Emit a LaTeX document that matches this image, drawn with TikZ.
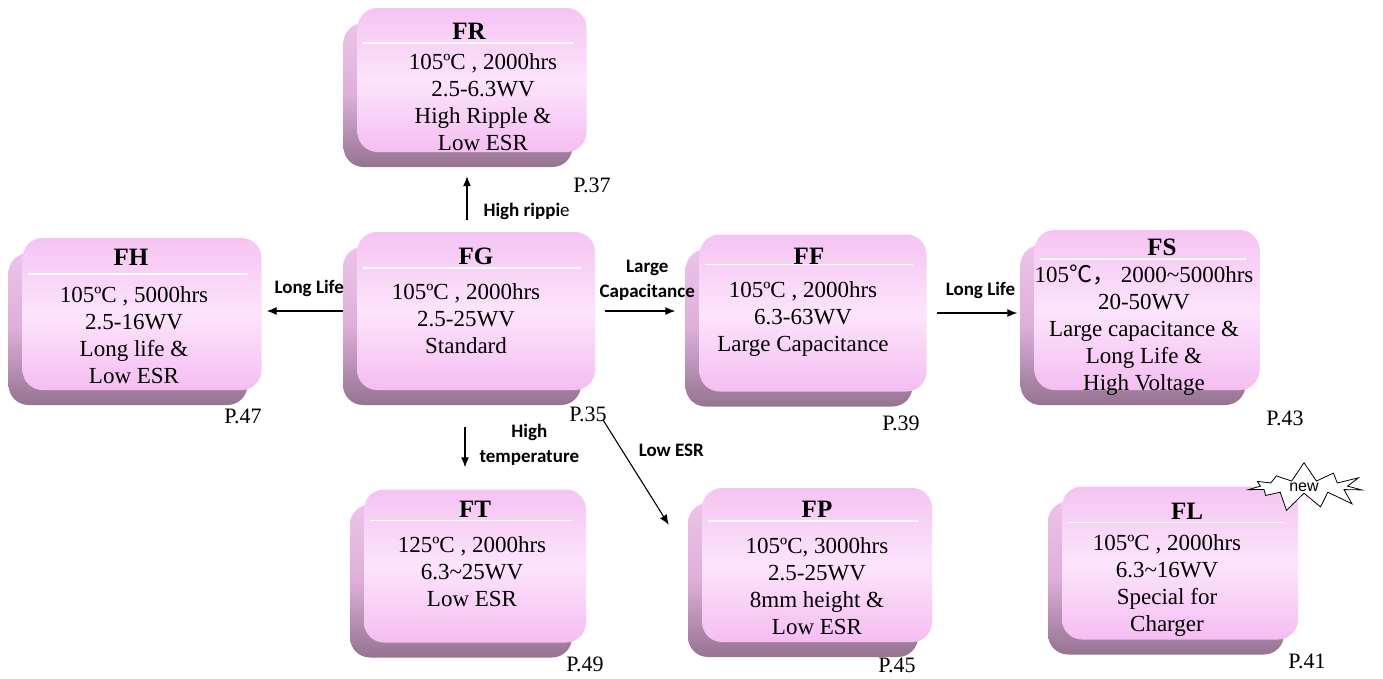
\documentclass[tikz,border=0pt]{standalone}
\usepackage{fontspec}
\setmainfont{Liberation Serif}
\newfontfamily\lblfont{Carlito}
\newfontfamily\arialfont{Liberation Sans}
\newfontfamily\cjk{Noto Sans CJK SC}
\usetikzlibrary{shadows,shapes.symbols,arrows.meta}
\definecolor{facetop}{HTML}{F5C3F3}
\definecolor{facemid}{HTML}{FCE4FB}
\definecolor{facebot}{HTML}{F5BDF2}
\definecolor{shadetop}{HTML}{EDC3EA}
\definecolor{shademid}{HTML}{DDAFDA}
\definecolor{shadebot}{HTML}{957391}

\begin{document}
\begin{tikzpicture}[x=1pt, y=-1pt,
  card node/.style={rectangle, draw=none, rounded corners=20pt, inner sep=0pt, top color=facetop, bottom color=facebot, middle color=facemid, general shadow={shadow xshift=-14pt, shadow yshift=-15pt, top color=shadetop, bottom color=shadebot, middle color=shademid}},
  title node/.style={anchor=base, inner sep=0pt, font=\fontsize{25}{25}\selectfont\bfseries},
  text node/.style={anchor=north, inner sep=0pt, align=center, font=\fontsize{23}{27}\selectfont},
  page node/.style={inner sep=0pt, font=\fontsize{22}{22}\selectfont},
  label node/.style={inner sep=0pt, align=center, font=\lblfont\bfseries\fontsize{19}{25}\selectfont},
  burst node/.style={starburst, draw, fill=white, line width=0.8pt, inner sep=0pt, starburst points=11, starburst point height=20pt, random starburst=7, minimum width=128pt, minimum height=36pt, font=\arialfont\fontsize{16}{16}\selectfont},
  rule line/.style={white, line width=1.5pt},
  arrow line/.style={-{Latex[length=10pt,width=8pt]}, line width=1.1pt}]

  \useasboundingbox (0,0) rectangle (1383,678);

  % top
  \node[card node, minimum width=229pt, minimum height=144pt] (fr) at (472,80) {};
  \node[title node] (fr-t) at ([xshift=-3pt,yshift=-32pt]fr.north) {FR};
  \draw[rule line] ([shift={(6pt,-35pt)}]fr.north west) -- ([shift={(-14pt,-35pt)}]fr.north east);
  \node[text node] (fr-x) at ([shift={(11pt,-46pt)}]fr.north) {105ºC , 2000hrs\\2.5-6.3WV\\High Ripple \&\\Low ESR};

  % middle row
  \node[card node, minimum width=239pt, minimum height=152pt] (fh) at (142,314) {};
  \node[title node] (fh-t) at ([xshift=-11pt,yshift=-28pt]fh.north) {FH};
  \draw[rule line] ([shift={(6pt,-36pt)}]fh.north west) -- ([shift={(-14pt,-36pt)}]fh.north east);
  \node[text node] (fh-x) at ([shift={(-8pt,-49pt)}]fh.north) {105ºC , 5000hrs\\2.5-16WV\\Long life \&\\Low ESR};

  \node[card node, minimum width=238pt, minimum height=158pt] (fg) at (476,311) {};
  \node[title node] (fg-t) at ([yshift=-33pt]fg.north) {FG};
  \draw[rule line] ([shift={(6pt,-36pt)}]fg.north west) -- ([shift={(-14pt,-36pt)}]fg.north east);
  \node[text node] (fg-x) at ([shift={(-10pt,-52pt)}]fg.north) {105ºC , 2000hrs\\2.5-25WV\\Standard};

  \node[card node, minimum width=227pt, minimum height=157pt] (ff) at (813,313) {};
  \node[title node] (ff-t) at ([xshift=-4pt,yshift=-30pt]ff.north) {FF};
  \draw[rule line] ([shift={(6pt,-30pt)}]ff.north west) -- ([shift={(-14pt,-30pt)}]ff.north east);
  \node[text node] (ff-x) at ([shift={(-10pt,-47pt)}]ff.north) {105ºC , 2000hrs\\6.3-63WV\\Large Capacitance};

  \node[card node, minimum width=225pt, minimum height=160pt] (fs) at (1147,310) {};
  \node[title node] (fs-t) at ([xshift=15pt,yshift=-26pt]fs.north) {FS};
  \draw[rule line] ([shift={(6pt,-29pt)}]fs.north west) -- ([shift={(-14pt,-29pt)}]fs.north east);
  \node[text node] (fs-x) at ([shift={(-3pt,-37pt)}]fs.north) {105\smash{\cjk ℃，} 2000\textasciitilde 5000hrs\\20-50WV\\Large capacitance \&\\Long Life \&\\High Voltage};

  % bottom row
  \node[card node, minimum width=222pt, minimum height=153pt] (ft) at (475,566) {};
  \node[title node] (ft-t) at ([yshift=-28pt]ft.north) {FT};
  \draw[rule line] ([shift={(6pt,-31pt)}]ft.north west) -- ([shift={(-14pt,-31pt)}]ft.north east);
  \node[text node] (ft-x) at ([shift={(-3pt,-47pt)}]ft.north) {125ºC , 2000hrs\\6.3\textasciitilde 25WV\\Low ESR};

  \node[card node, minimum width=230pt, minimum height=154pt] (fp) at (817,565) {};
  \node[title node] (fp-t) at ([yshift=-30pt]fp.north) {FP};
  \draw[rule line] ([shift={(6pt,-33pt)}]fp.north west) -- ([shift={(-14pt,-33pt)}]fp.north east);
  \node[text node] (fp-x) at ([yshift=-50pt]fp.north) {105ºC, 3000hrs\\2.5-25WV\\8mm height \&\\Low ESR};

  \node[card node, minimum width=236pt, minimum height=153pt] (fl) at (1180,563) {};
  \node[title node] (fl-t) at ([xshift=7pt,yshift=-33pt]fl.north) {FL};
  \draw[rule line] ([shift={(6pt,-36pt)}]fl.north west) -- ([shift={(-14pt,-36pt)}]fl.north east);
  \node[text node] (fl-x) at ([shift={(-13pt,-48pt)}]fl.north) {105ºC , 2000hrs\\6.3\textasciitilde 16WV\\Special for\\Charger};
  \node[burst node] (new) at (1304,487) {new};

  % pages
  \node[page node] (p37) at (592,185) {P.37};
  \node[page node] (p47) at (243,416) {P.47};
  \node[page node] (p35) at (588,414) {P.35};
  \node[page node] (p39) at (901,423) {P.39};
  \node[page node] (p43) at (1285,418) {P.43};
  \node[page node] (p49) at (585,664) {P.49};
  \node[page node] (p45) at (897,665) {P.45};
  \node[page node] (p41) at (1307,661) {P.41};

 \path[]
 (fg.west) [arrow line, shorten <=14pt, shorten >=5pt] edge node [label node, above=14pt] {Long Life} (fg.west -| fh.east)
 (fg.east) [arrow line, shorten <=10pt, shorten >=24pt] edge node [label node, above=10pt] {Large\\Capacitance} (fg.east -| ff.west)
 (ff.east) [arrow line, shorten <=10pt, shorten >=17pt] edge node [label node, above=14pt] {Long Life} (ff.east -| fs.west)
 ([xshift=-9pt]fg.north) [arrow line, shorten <=12pt, shorten >=24pt] edge node [label node, pos=0.26, right=16pt] {High rippi{\mdseries e}} ([xshift=-9pt]fg.north |- fr.south)
 ([xshift=-11pt]fg.south) [arrow line, shorten <=37pt, shorten >=22pt] edge node [label node, pos=0.55, right=14pt] {High\\temperature} ([xshift=-11pt]fg.south |- ft.north)
 ([shift={(8pt,-30pt)}]fg.south east) [arrow line, shorten <=0pt, shorten >=0pt] edge node [label node, pos=0.29, right=16pt] {Low ESR} ([shift={(-33pt,-37pt)}]fp.north west);
\end{tikzpicture}
\end{document}
